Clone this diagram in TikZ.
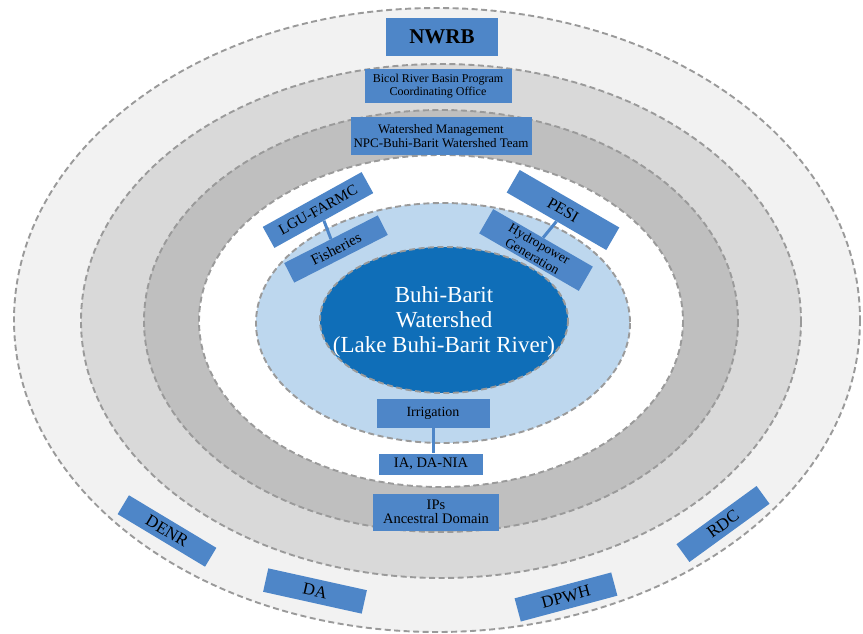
\documentclass[tikz,border=0pt]{standalone}
\usepackage{fontspec}
\setmainfont{Liberation Serif}
\definecolor{ringlight}{HTML}{F2F2F2}
\definecolor{ringmid}{HTML}{D9D9D9}
\definecolor{ringdark}{HTML}{BFBFBF}
\definecolor{lakelight}{HTML}{BDD7EE}
\definecolor{lakedark}{HTML}{0F6EB8}
\definecolor{boxblue}{HTML}{4E86C8}
\definecolor{dashgray}{HTML}{9A9A9A}
\tikzset{
  ring/.style={draw=dashgray,line width=1.9pt,dash pattern=on 6pt off 3.5pt},
  orgbox/.style={fill=boxblue,inner sep=0pt,align=center,text=black},
  link/.style={draw=boxblue,line width=3pt},
}
\newcommand{\fs}[2]{\fontsize{#1}{#2}\selectfont}
\begin{document}
\begin{tikzpicture}[x=1pt,y=-1pt]
  \useasboundingbox (0,0) rectangle (863,634);
  \fill[white] (0,0) rectangle (863,634);
  % rings
  \coordinate (c) at (441,321);
  \draw[ring,fill=ringlight] (437,320) ellipse [x radius=423,y radius=312];
  \draw[ring,fill=ringmid] (c) ellipse [x radius=360,y radius=257];
  \draw[ring,fill=ringdark] (c) ellipse [x radius=297,y radius=211];
  \draw[ring,fill=white] (c) ellipse [x radius=242,y radius=166];
  \draw[ring,fill=lakelight] (443,323) ellipse [x radius=187,y radius=120];
  \draw[ring,fill=lakedark] (444,320) ellipse [x radius=124,y radius=73];
  \node[text=white,align=center,font=\fs{23}{25}] (lake) at (444,322)
    {Buhi-Barit\\Watershed\\(Lake Buhi-Barit River)};
  % boxes
  \node[orgbox,minimum width=112pt,minimum height=38pt,font=\fs{21}{23}\bfseries] (nwrb) at (442,37) {NWRB};
  \node[orgbox,minimum width=147pt,minimum height=34pt,font=\fs{12}{13}] (bicol) at (438,86)
    {Bicol River Basin Program\\Coordinating Office};
  \node[orgbox,minimum width=181pt,minimum height=37pt,font=\fs{13}{14}] (wsm) at (441,136)
    {Watershed Management\\NPC-Buhi-Barit Watershed Team};
  \node[orgbox,minimum width=113pt,minimum height=29pt,font=\fs{14}{15}] (irr) at (433,413) {Irrigation};
  \node[orgbox,minimum width=104pt,minimum height=21pt,font=\fs{14.5}{15}] (ia) at (431,464) {IA, DA-NIA};
  \node[orgbox,minimum width=126pt,minimum height=37pt,font=\fs{14.5}{14}] (ips) at (436,512)
    {IPs\\Ancestral Domain};
  \node[orgbox,minimum width=113pt,minimum height=24pt,rotate=29,font=\fs{15}{16}] (lgu) at (318,210) {LGU-FARMC};
  \node[orgbox,minimum width=105pt,minimum height=22pt,rotate=27,font=\fs{15}{16}] (fish) at (336,249) {Fisheries};
  \node[orgbox,minimum width=115pt,minimum height=26pt,rotate=-30,font=\fs{16}{17}] (pesi) at (563,210) {PESI};
  \node[orgbox,minimum width=115pt,minimum height=28pt,rotate=-30,font=\fs{13.5}{14}] (hydro) at (536,250)
    {Hydropower\\Generation};
  \node[orgbox,minimum width=102pt,minimum height=22pt,rotate=-31,font=\fs{17}{18}] (denr) at (167,531) {DENR};
  \node[orgbox,minimum width=101pt,minimum height=24pt,rotate=-12.5,font=\fs{17}{18}] (da) at (315,591) {DA};
  \node[orgbox,minimum width=100pt,minimum height=24pt,rotate=15,font=\fs{17}{18}] (dpwh) at (566,597) {DPWH};
  \node[orgbox,minimum width=99pt,minimum height=22pt,rotate=36,font=\fs{17}{18}] (rdc) at (723,524) {RDC};
  % connectors
  \draw[link] (lgu.south) -- (fish.north);
  \draw[link] (pesi.south) -- (hydro.north);
  \draw[link] (irr.south) -- (irr.south |- ia.north);
\end{tikzpicture}
\end{document}
